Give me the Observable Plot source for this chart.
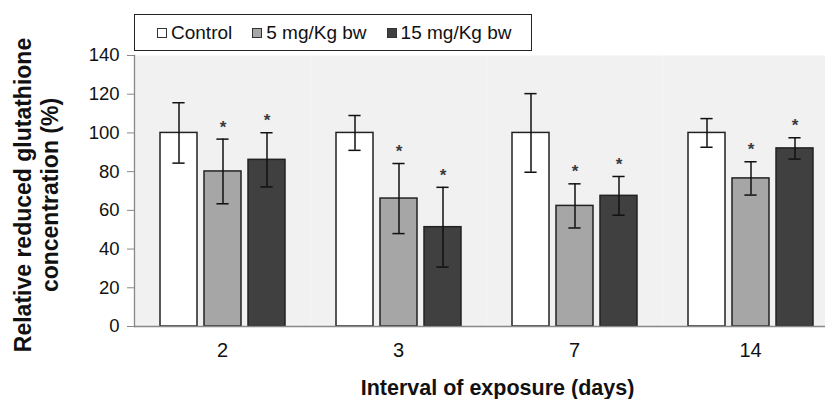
<!DOCTYPE html>
<html>
<head>
<meta charset="utf-8">
<script src="https://cdn.jsdelivr.net/npm/d3@7"></script>
<script src="https://cdn.jsdelivr.net/npm/@observablehq/plot@0.6"></script>
<style>
html, body { margin: 0; padding: 0; background: #fff; overflow: hidden; }
#wrap { position: relative; width: 825px; height: 399px; font-family: "Liberation Sans", Arial, sans-serif; }
#chart { position: absolute; left: 0; top: 0; }
#chart [aria-label="fx-axis label"] { translate: 11px 0; }
#legend { position: absolute; left: 134px; top: 14px; width: 398px; height: 37px; box-sizing: border-box;
  border: 1.5px solid #222; background: #fff; display: flex; align-items: center; padding-left: 22px;
  font-size: 19px; color: #111; z-index: 2; }
#legend .item { display: flex; align-items: center; margin-right: 20px; white-space: nowrap; }
#legend .sw { width: 10px; height: 10px; box-sizing: border-box; border: 1px solid #333; margin-right: 4px; }
</style>
</head>
<body>
<div id="wrap">
  <div id="chart"></div>
  <div id="legend"></div>
</div>
<script>
// ---- data ----
const days = ["2", "3", "7", "14"];
const groups = ["Control", "5 mg/Kg bw", "15 mg/Kg bw"];
const controlMean = [100, 100, 100, 100];
const controlSD = [15.6, 9.0, 20.3, 7.4];
const dose5Mean = [80.1, 66.1, 62.3, 76.5];
const dose5SD = [16.7, 18.1, 11.4, 8.6];
const dose15Mean = [86.1, 51.3, 67.5, 92.0];
const dose15SD = [14.0, 20.6, 10.0, 5.5];
const controlSig = [false, false, false, false];
const dose5Sig = [true, true, true, true];
const dose15Sig = [true, true, true, true];
const yTicks = [0, 20, 40, 60, 80, 100, 120, 140];
const yTitle = "Relative reduced glutathione\nconcentration (%)";
const xTitle = "Interval of exposure (days)";

const fills = ["#ffffff", "#a6a6a6", "#404040"];

const means = [controlMean, dose5Mean, dose15Mean];
const sds = [controlSD, dose5SD, dose15SD];
const sigs = [controlSig, dose5Sig, dose15Sig];
const rows = [];
days.forEach((day, i) => groups.forEach((g, j) => rows.push({
  day, group: g, mean: means[j][i], sd: sds[j][i], sig: sigs[j][i]
})));

const lo = d => d.mean - d.sd;
const hi = d => d.mean + d.sd;

const plot = Plot.plot({
  width: 825,
  height: 399,
  marginTop: 55,
  marginBottom: 73,
  marginLeft: 133,
  marginRight: -13,
  style: { fontFamily: "'Liberation Sans', Arial, sans-serif", background: "transparent", color: "#111", overflow: "visible" },
  fx: { domain: days, padding: 0, label: null },
  x: { domain: groups, paddingInner: 0.17, paddingOuter: 0.575, axis: null },
  y: { domain: [0, 140], label: null },
  color: { domain: groups, range: fills },
  marks: [
    Plot.frame({ fill: "#f1f1f1", stroke: "none" }),
    Plot.barY(rows, { fx: "day", x: "group", y: "mean", fill: "group", stroke: "#222", strokeWidth: 1.5 }),
    Plot.ruleX(rows, { fx: "day", x: "group", y1: lo, y2: hi, stroke: "#111", strokeWidth: 1.5 }),
    Plot.tickY(rows, { fx: "day", x: "group", y: hi, stroke: "#111", strokeWidth: 1.5, insetLeft: 12.4, insetRight: 12.4 }),
    Plot.tickY(rows, { fx: "day", x: "group", y: lo, stroke: "#111", strokeWidth: 1.5, insetLeft: 12.4, insetRight: 12.4 }),
    Plot.text(rows.filter(d => d.sig), { fx: "day", x: "group", y: hi, text: () => "*", dy: -12, lineAnchor: "middle", fontSize: 17, fontWeight: "bold", fill: "#3a3a3a" }),
    Plot.ruleY([0], { stroke: "#888", strokeWidth: 1.3 }),
    Plot.frame({ anchor: "left", stroke: "#888", strokeWidth: 1.3, facetAnchor: "left" }),
    Plot.axisY({ ticks: yTicks, tickSize: 7, tickPadding: 8, fontSize: 18.5, stroke: "#888", fill: "#111", label: null }),
    Plot.axisFx({ anchor: "bottom", tickSize: 0, tickPadding: 16, fontSize: 20, fill: "#111", label: null }),
    Plot.axisFx({ anchor: "bottom", ticks: [], label: xTitle, labelAnchor: "center", labelArrow: "none", labelOffset: 68, fontSize: 21.5, fontWeight: "bold", fill: "#111" }),
    Plot.text([yTitle], { frameAnchor: "left", textAnchor: "middle", rotate: -90, dx: -99, dy: 4, lineAnchor: "middle", lineHeight: 1.17, fontSize: 23, fontWeight: "bold", fill: "#111", facetAnchor: "left" })
  ]
});
document.getElementById("chart").appendChild(plot);

// legend
const legend = document.getElementById("legend");
groups.forEach((g, j) => {
  const item = document.createElement("div");
  item.className = "item";
  const sw = document.createElement("span");
  sw.className = "sw";
  sw.style.background = fills[j];
  const label = document.createElement("span");
  label.textContent = g;
  item.appendChild(sw);
  item.appendChild(label);
  legend.appendChild(item);
});
</script>
</body>
</html>
